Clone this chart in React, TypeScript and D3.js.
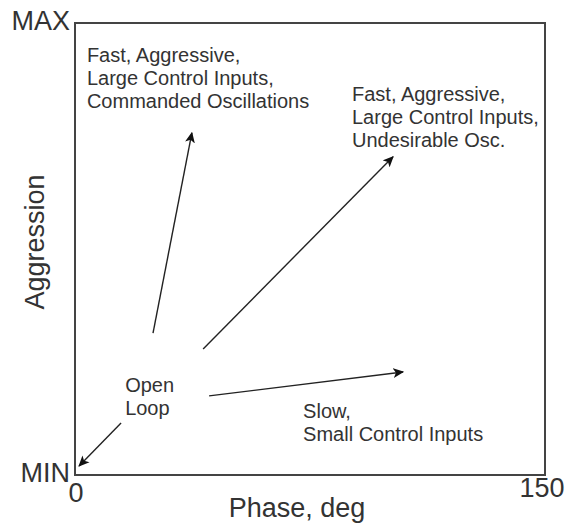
import React from "react";
import * as d3 from "d3";

// Axis domain
const phaseDomain = [0, 150];
const aggressionDomain = [0, 1];

// Axis tick labels
const xTickLabels = [
  { value: 0, label: "0" },
  { value: 150, label: "150" },
];
const yTickLabels = [
  { value: 0, label: "MIN" },
  { value: 1, label: "MAX" },
];
const xTitle = "Phase, deg";
const yTitle = "Aggression";

// Arrows: from (phase, aggression) to (phase, aggression)
const arrowFrom = [
  [24.9, 0.314],
  [40.9, 0.279],
  [42.8, 0.175],
  [14.7, 0.115],
];
const arrowTo = [
  [37.3, 0.757],
  [101.5, 0.704],
  [104.7, 0.228],
  [1.3, 0.02],
];

// Region annotations: anchor (phase, aggression of first baseline), lines
const noteAnchors = [
  [3.8, 0.914],
  [88.4, 0.827],
  [16.0, 0.184],
  [72.8, 0.126],
];
const noteLines = [
  ["Fast, Aggressive,", "Large Control Inputs,", "Commanded Oscillations"],
  ["Fast, Aggressive,", "Large Control Inputs,", "Undesirable Osc."],
  ["Open", "Loop"],
  ["Slow,", "Small Control Inputs"],
];

const W = 565;
const H = 526;
const left = 75;
const right = 545;
const top = 23;
const bottom = 475;
const font = "'Liberation Sans', Arial, sans-serif";
const ink = "#333";

export default function App() {
  const x = d3.scaleLinear().domain(phaseDomain).range([left, right]);
  const y = d3.scaleLinear().domain(aggressionDomain).range([bottom, top]);
  const line = d3.line<number[]>().x((d) => x(d[0])).y((d) => y(d[1]));

  return (
    <svg
      width={W}
      height={H}
      style={{ position: "absolute", left: 0, top: 0, background: "#fff" }}
      fontFamily={font}
    >
      <defs>
        <marker
          id="head"
          viewBox="0 0 10 10"
          refX="9"
          refY="5"
          markerWidth="11"
          markerHeight="11"
          markerUnits="userSpaceOnUse"
          orient="auto"
        >
          <path d="M0,0.5 L10,5 L0,9.5 L2.5,5 Z" fill="#111" />
        </marker>
      </defs>
      <rect
        x={x(phaseDomain[0])}
        y={y(aggressionDomain[1])}
        width={x(phaseDomain[1]) - x(phaseDomain[0])}
        height={y(aggressionDomain[0]) - y(aggressionDomain[1])}
        fill="none"
        stroke="#444"
        strokeWidth={2}
      />
      {arrowFrom.map((f, i) => (
        <path
          key={i}
          d={line([f, arrowTo[i]]) || ""}
          stroke="#222"
          strokeWidth={1.4}
          fill="none"
          markerEnd="url(#head)"
        />
      ))}
      {yTickLabels.map((t) => (
        <text
          key={t.label}
          x={left - 5}
          y={y(t.value) + (t.value === 1 ? 7 : 7)}
          textAnchor="end"
          fontSize={27}
          fill={ink}
        >
          {t.label}
        </text>
      ))}
      {xTickLabels.map((t) => (
        <text
          key={t.label}
          x={x(t.value) + (t.value === 0 ? 1 : -3)}
          y={bottom + (t.value === 0 ? 27 : 22)}
          textAnchor="middle"
          fontSize={27}
          fill={ink}
        >
          {t.label}
        </text>
      ))}
      <text
        x={(left + right) / 2 - 13}
        y={517}
        textAnchor="middle"
        fontSize={27}
        fill={ink}
      >
        {xTitle}
      </text>
      <text
        transform={`translate(44, 242) rotate(-90)`}
        textAnchor="middle"
        fontSize={27}
        fill={ink}
      >
        {yTitle}
      </text>
      {noteAnchors.map((a, i) => (
        <text key={i} fontSize={20} fill={ink}>
          {noteLines[i].map((s, j) => (
            <tspan key={j} x={x(a[0])} y={y(a[1]) + j * 23}>
              {s}
            </tspan>
          ))}
        </text>
      ))}
    </svg>
  );
}
